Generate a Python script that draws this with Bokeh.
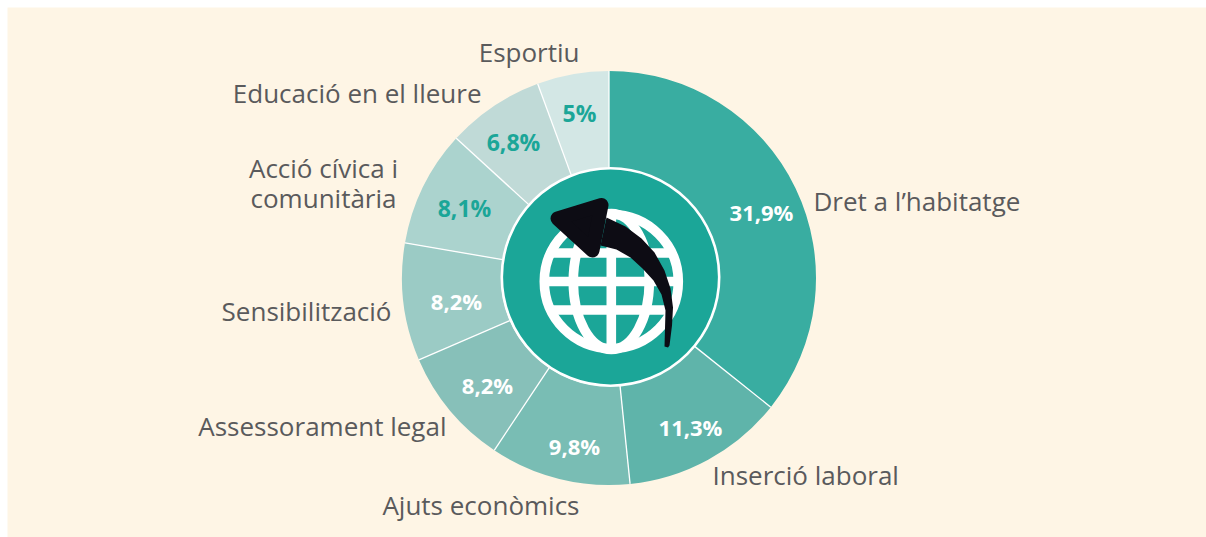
import math
from bokeh.plotting import figure
from bokeh.models import Range1d
from bokeh.core.properties import value
from bokeh.embed import file_html
from bokeh.resources import INLINE

categories = ["Dret a l’habitatge", "Inserció laboral", "Ajuts econòmics", "Assessorament legal",
              "Sensibilització", "Acció cívica i\ncomunitària", "Educació en el lleure", "Esportiu"]
values = [31.9, 11.3, 9.8, 8.2, 8.2, 8.1, 6.8, 5.0]
pct_labels = ["31,9%", "11,3%", "9,8%", "8,2%", "8,2%", "8,1%", "6,8%", "5%"]
colors = ["#39ADA1", "#5FB4AA", "#79BDB4", "#87C0B9", "#9BCBC5", "#ABD3CE", "#C0DAD7", "#D3E7E5"]
pct_colors = ["white"] * 5 + ["#1BA698"] * 3

# layout (page pixels)
W, H = 1206, 537
CX, CY = 608.5, 277.5
R_OUT, R_IN = 207, 108
def Y(py): return 537 - py

p = figure(width=W, height=H, x_range=Range1d(0, 1206), y_range=Range1d(0, 537),
           output_backend="svg", toolbar_location=None, min_border=0,
           background_fill_color="white", border_fill_color="white", outline_line_color=None)
p.axis.visible = False
p.grid.visible = False

p.quad(left=[7], right=[1206], top=[Y(7)], bottom=[Y(537)], fill_color="#FEF5E5", line_color=None)

total = sum(values)
cum = [0]
for v in values:
    cum.append(cum[-1] + v)
a = [math.pi / 2 - 2 * math.pi * c / total for c in cum]

p.annular_wedge(x=[CX] * 8, y=[Y(CY)] * 8, inner_radius=R_IN, outer_radius=R_OUT,
                start_angle=a[1:], end_angle=a[:-1], direction="anticlock",
                fill_color=colors, line_color=None)
p.segment(x0=[CX + R_IN * math.cos(t) for t in a[:-1]], y0=[Y(CY) + R_IN * math.sin(t) for t in a[:-1]],
          x1=[CX + R_OUT * math.cos(t) for t in a[:-1]], y1=[Y(CY) + R_OUT * math.sin(t) for t in a[:-1]],
          line_color="white", line_width=1.3)

# centre disc
p.circle(x=[610], y=[Y(276.5)], radius=108.7, fill_color="#1BA698", line_color="white", line_width=2.6)

# globe icon
GX, GY = 610.8, 281
p.circle(x=[GX], y=[Y(GY)], radius=67, fill_color=None, line_color="white", line_width=9.6)
p.ellipse(x=[GX], y=[Y(GY)], width=76, height=136, fill_color=None, line_color="white", line_width=9.6)
p.segment(x0=[GX], y0=[Y(GY - 70)], x1=[GX], y1=[Y(GY + 70)], line_color="white", line_width=9.6)
for dy in (-28.5, 0, 28.5):
    hw = math.sqrt(69 ** 2 - dy ** 2)
    p.segment(x0=[GX - hw], y0=[Y(GY + dy)], x1=[GX + hw], y1=[Y(GY + dy)], line_color="white", line_width=9.6)

# arrow
ARROW = "#0D0C14"
p.patch(x=[557, 601, 592], y=[Y(218), Y(204.5), Y(250)], fill_color=ARROW, line_color=ARROW,
        line_width=14, line_join="round")
shaft_x = [606, 625, 641, 654, 664, 670, 672.5, 671.5, 669, 667.5, 664, 664.5, 665, 661, 653, 642, 630, 616, 600]
shaft_y = [217, 226, 238, 252, 270, 288, 307, 325, 345, 347, 346, 328, 310, 294, 280, 268, 257, 249, 245]
p.patch(x=shaft_x, y=[Y(v) for v in shaft_y], fill_color=ARROW, line_color=None)

# percentage labels
pct_pos = [(761, 211.5), (690, 426.5), (574, 445.5), (487, 384.5), (456, 300.5), (464, 207.5), (513, 141.5), (579, 112.5)]
pct_sizes = ["22px"] * 5 + ["23px"] * 3
p.text(x=[q[0] for q in pct_pos], y=[Y(q[1]) for q in pct_pos], text=pct_labels,
       text_font=value("Open Sans"), text_font_style="bold", text_font_size=pct_sizes,
       text_color=pct_colors, text_align="center", text_baseline="middle")

# category labels
cat_pos = [(813, 200, "left"), (712, 474, "left"), (579, 504, "right"), (446, 425, "right"),
           (391, 310, "right"), (323, 182, "center"), (481, 92, "right"), (579, 51, "right")]
text_color = "#5A5A5C"
for name, (x, y, al) in zip(categories, cat_pos):
    lines = name.split("\n")
    for i, ln in enumerate(lines):
        p.text(x=[x], y=[Y(y + (i - (len(lines) - 1) / 2) * 30)], text=[ln],
               text_font=value("Open Sans"), text_font_size="26px", text_color=text_color,
               text_align=al, text_baseline="middle")

open("out.html", "w").write(file_html(p, INLINE))
